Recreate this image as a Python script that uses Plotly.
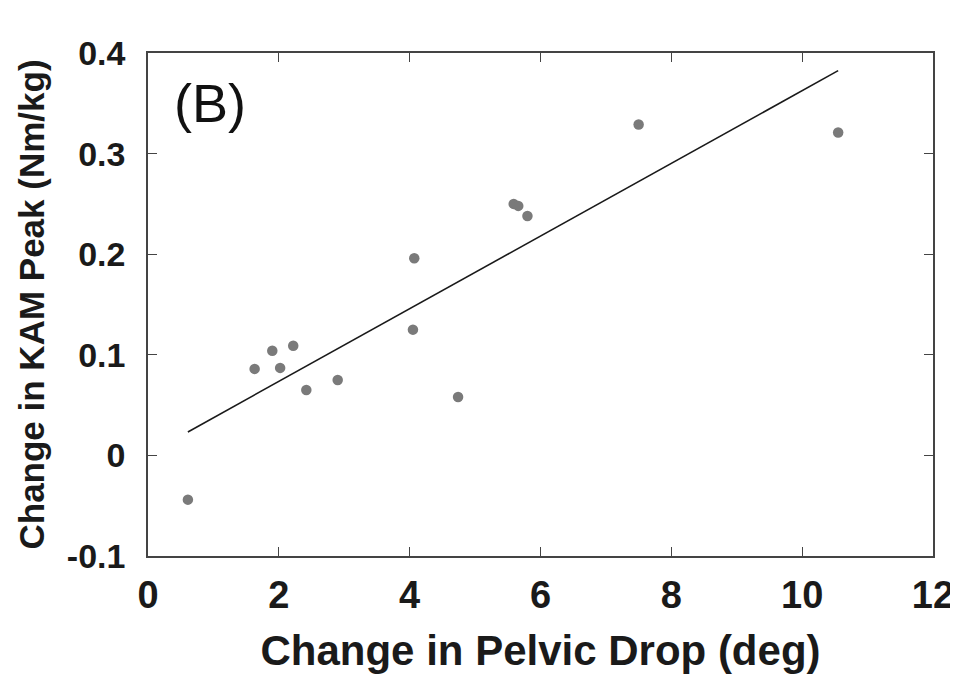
import numpy as np
import plotly.graph_objects as go

# ---- data ----
pelvic_drop = [0.61, 1.63, 1.90, 2.02, 2.22, 2.42, 2.90, 4.05, 4.07, 4.74,
               5.59, 5.66, 5.80, 7.50, 10.55]
kam_peak = [-0.044, 0.086, 0.104, 0.087, 0.109, 0.065, 0.075, 0.125, 0.196, 0.058,
            0.250, 0.248, 0.238, 0.329, 0.321]

x_tick_vals = [0, 2, 4, 6, 8, 10, 12]
x_tick_text = ["0", "2", "4", "6", "8", "10", "12"]
y_tick_vals = [-0.1, 0, 0.1, 0.2, 0.3, 0.4]
y_tick_text = ["-0.1", "0", "0.1", "0.2", "0.3", "0.4"]

x_title = "Change in Pelvic Drop (deg)"
y_title = "Change in KAM Peak (Nm/kg)"
panel_label = "(B)"

# least-squares regression line over the data range
slope, intercept = np.polyfit(pelvic_drop, kam_peak, 1)
fit_x = [min(pelvic_drop), max(pelvic_drop)]
fit_y = [slope * v + intercept for v in fit_x]

FONT = "Liberation Sans, Arial, sans-serif"

fig = go.Figure()
fig.add_trace(go.Scatter(
    x=fit_x, y=fit_y, mode="lines",
    line=dict(color="#1a1a1a", width=1.6),
    showlegend=False, hoverinfo="skip"))
fig.add_trace(go.Scatter(
    x=pelvic_drop, y=kam_peak, mode="markers",
    marker=dict(color="#7a7a7a", size=10.5, line=dict(width=0)),
    showlegend=False))

axis_common = dict(
    showline=True, linecolor="#444444", linewidth=1.5, mirror="ticks",
    ticks="inside", ticklen=9, tickwidth=1.3, tickcolor="#444444",
    showgrid=False, zeroline=False, automargin=False,
)

fig.update_xaxes(
    range=[0, 12], tickmode="array", tickvals=x_tick_vals, ticktext=x_tick_text,
    tickfont=dict(family=FONT, size=38, color="#1a1a1a", weight="bold"),
    ticklabelstandoff=5,
    title=dict(text=x_title, standoff=20,
               font=dict(family=FONT, size=42, color="#1a1a1a", weight="bold")),
    **axis_common)
fig.update_yaxes(
    range=[-0.1, 0.4], tickmode="array", tickvals=y_tick_vals, ticktext=y_tick_text,
    tickfont=dict(family=FONT, size=34, color="#1a1a1a", weight="bold"),
    ticklabelstandoff=14,
    title=dict(text=y_title, standoff=12,
               font=dict(family=FONT, size=35, color="#1a1a1a", weight="bold")),
    **axis_common)

fig.add_annotation(
    text=panel_label, xref="paper", yref="paper", x=0.03, y=0.9,
    xanchor="left", yanchor="middle", showarrow=False,
    font=dict(family=FONT, size=54, color="#111111"))

# page body adds an 8px offset, so the figure is sized to fill the window from there
fig.update_layout(
    width=950, height=669, autosize=False,
    margin=dict(l=140, r=25, t=45, b=121, autoexpand=False),
    paper_bgcolor="white", plot_bgcolor="white",
    font=dict(family=FONT),
)

fig.write_html("out.html")
